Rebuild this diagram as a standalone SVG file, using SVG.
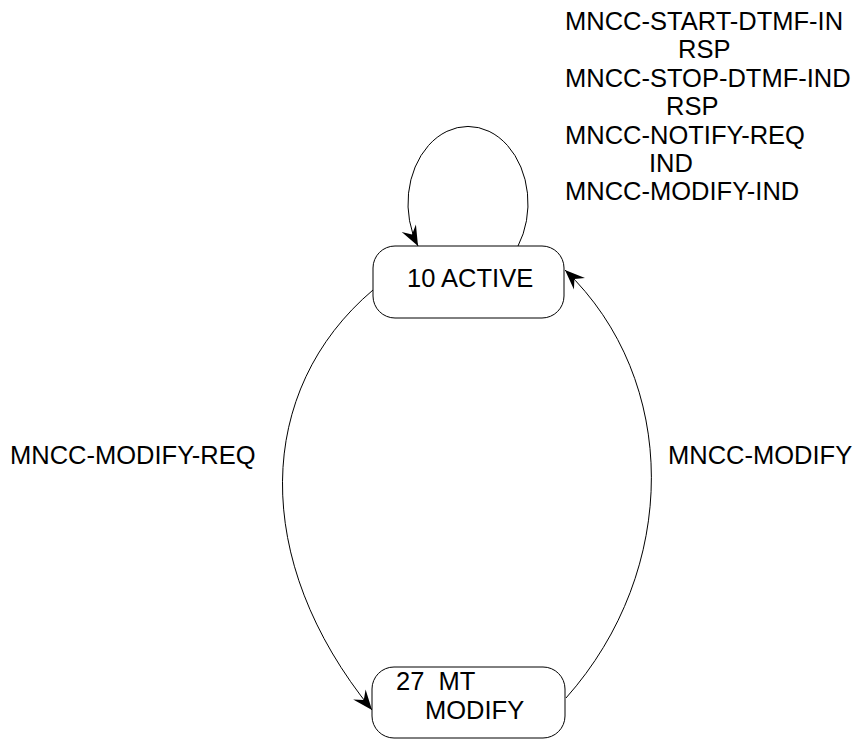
<svg xmlns="http://www.w3.org/2000/svg" width="862" height="740" viewBox="0 0 862 740">
<style>
text{font-family:"Liberation Sans",Arial,sans-serif;font-size:25.5px;fill:#000;white-space:pre}
.box{fill:#fff;stroke:#000;stroke-width:1}
.edge{fill:none;stroke:#000;stroke-width:1}
</style>
<defs>
<marker id="arr" markerUnits="userSpaceOnUse" markerWidth="26" markerHeight="22" viewBox="-22 -11 26 22" refX="0" refY="0" orient="auto">
<path d="M0,0 L-20,-8 L-13,0 L-20,8 Z" fill="#000"/>
</marker>
</defs>
<rect width="862" height="740" fill="#fff"/>
<g id="connectors">
<path class="edge" d="M 518 246 A 60 77 0 1 0 418 246" marker-end="url(#arr)"/>
<path class="edge" d="M 373 290 C 255 390, 250 560, 372 710" marker-end="url(#arr)"/>
<path class="edge" d="M 566 698 C 680 570, 680 380, 565 270" marker-end="url(#arr)"/>
</g>
<g id="labels">
<text x="565" y="30">MNCC-START-DTMF-IN</text>
<text x="678" y="58">RSP</text>
<text x="565" y="87">MNCC-STOP-DTMF-IND</text>
<text x="666" y="115">RSP</text>
<text x="565" y="144">MNCC-NOTIFY-REQ</text>
<text x="649" y="172">IND</text>
<text x="565" y="200">MNCC-MODIFY-IND</text>
<text x="10" y="464">MNCC-MODIFY-REQ</text>
<text x="668" y="464">MNCC-MODIFY</text>
</g>
<g id="node-active">
<rect class="box" x="373" y="246" width="191" height="72" rx="22" ry="22"/>
<text x="407" y="287">10 ACTIVE</text>
</g>
<g id="node-mt-modify">
<rect class="box" x="372" y="667" width="193" height="71" rx="22" ry="22"/>
<text x="396" y="690">27  MT</text>
<text x="425" y="719">MODIFY</text>
</g>
</svg>
